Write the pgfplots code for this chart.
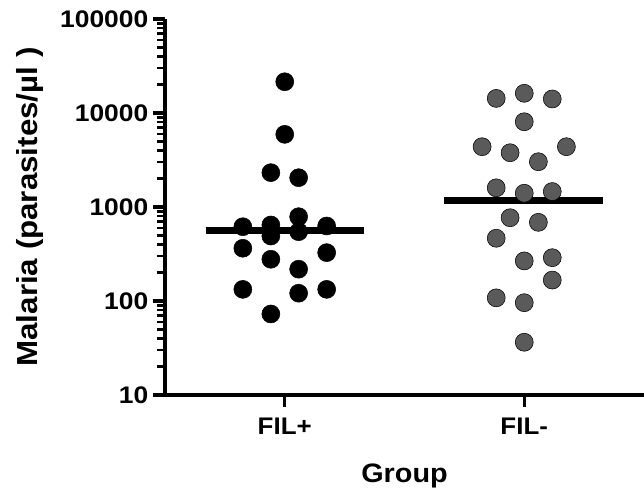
\documentclass[border=0pt]{standalone}
\usepackage{fontspec}
\setmainfont{Liberation Sans}[FakeStretch=1.08]
\newfontfamily\ytf{Liberation Sans}[FakeStretch=1.1]
\usepackage{pgfplots}
\pgfplotsset{compat=1.18}
\definecolor{dotgray}{HTML}{5A5A5A}
\begin{document}
\begin{tikzpicture}
\begin{axis}[name=ax, scale only axis, width=359.25pt, height=282pt,
  xmin=0.5, xmax=2.5, ymode=log, ymin=10, ymax=100000,
  axis x line*=bottom, axis y line*=left,
  axis line style={line width=2.6pt, -},
  xtick={1,2}, xticklabels={FIL+,FIL-},
  ytick={10,100,1000,10000,100000}, yticklabels={10,100,1000,10000,100000},
  tick align=outside, major tick length=9pt, minor tick length=6pt,
  major tick style={line width=2.6pt, black},
  minor tick style={line width=2pt, black},
  xticklabel style={font=\fontsize{18}{20}\selectfont\bfseries, yshift=-4.5pt},
  yticklabel style={font=\ytf\fontsize{18}{20}\selectfont\bfseries},
  xlabel={Group}, ylabel={Malaria (parasites/µl )},
  xlabel style={font=\fontsize{20}{24}\selectfont\bfseries, at={(axis description cs:0.5,-0.233)}, anchor=base},
  ylabel style={font=\fontsize{21.75}{26}\selectfont\bfseries, at={(axis description cs:-0.282,0.5)}, anchor=center},
  clip=false,
]
\addplot[only marks, mark=*, mark size=6.75pt, mark options={draw=none, fill=black}] coordinates {
(1.0,21500) (1.0,5930) (0.942,2320) (1.058,2050) (1.058,789) (0.825,617)
(0.942,644) (1.175,628) (0.942,491) (1.058,546) (0.825,364) (1.175,327)
(0.942,278) (1.058,218) (0.825,133) (1.058,121) (1.175,133) (0.942,72.8)
};
\addplot[only marks, mark=*, mark size=6.75pt, mark options={draw=none, fill=dotgray}] coordinates {
(1.883,14300) (2.0,16200) (2.117,14100) (2.0,8070) (1.824,4380) (1.941,3780)
(2.059,3030) (2.176,4380) (1.883,1600) (2.0,1400) (2.117,1460) (1.941,769)
(2.059,687) (1.883,465) (2.0,267) (2.117,289) (2.117,167) (1.883,108)
(2.0,95.9) (2.0,36.4)
};
\addplot[black, line width=5.25pt] coordinates {(0.67,565) (1.33,565)};
\addplot[black, line width=5.25pt] coordinates {(1.666,1167) (2.33,1167)};
\end{axis}
\pgfresetboundingbox
\path[use as bounding box] ([xshift=-123.75pt,yshift=-71.25pt]ax.south west) rectangle ([yshift=14.25pt]ax.north east);
\end{tikzpicture}
\end{document}
